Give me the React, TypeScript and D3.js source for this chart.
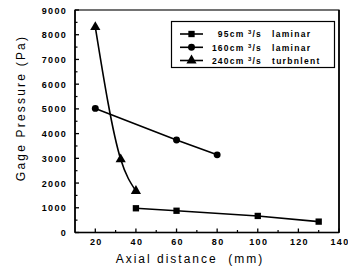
import React, { useEffect, useRef } from 'react';
import * as d3 from 'd3';

// data
const laminar95X = [40, 60, 100, 130];
const laminar95Y = [980, 880, 670, 440];
const laminar160X = [20, 60, 80];
const laminar160Y = [5020, 3740, 3140];
const turbulent240X = [20, 32.5, 40];
const turbulent240Y = [8310, 2960, 1680];

const xTicks = [20, 40, 60, 80, 100, 120, 140];
const yTicks = [0, 1000, 2000, 3000, 4000, 5000, 6000, 7000, 8000, 9000];
const legendLabels = ['95cm', '160cm', '240cm'];
const legendKinds = ['laminar', 'laminar', 'turbnlent'];

const App = () => {
  const chartRef = useRef(null);

  useEffect(() => {
    d3.select(chartRef.current).selectAll('*').remove();

    const W = 348;
    const H = 269;
    const left = 75, right = 339, top = 10, bottom = 232.5;

    const svg = d3.select(chartRef.current)
      .append('svg')
      .attr('width', W)
      .attr('height', H)
      .style('position', 'absolute')
      .style('left', 0)
      .style('top', 0)
      .style('background', '#fff');

    const x = d3.scaleLinear().domain([10, 140]).range([left, right]);
    const y = d3.scaleLinear().domain([0, 9000]).range([bottom, top]);

    const font = 'Liberation Sans, Arial, sans-serif';

    // frame
    svg.append('rect')
      .attr('x', left).attr('y', top)
      .attr('width', right - left).attr('height', bottom - top)
      .attr('fill', 'none').attr('stroke', '#000').attr('stroke-width', 1.1);
    svg.append('line')
      .attr('x1', left).attr('x2', left).attr('y1', top).attr('y2', bottom)
      .attr('stroke', '#000').attr('stroke-width', 1.6);
    svg.append('line')
      .attr('x1', left).attr('x2', right).attr('y1', bottom).attr('y2', bottom)
      .attr('stroke', '#000').attr('stroke-width', 1.6);
    svg.append('line')
      .attr('x1', right).attr('x2', right).attr('y1', top).attr('y2', bottom)
      .attr('stroke', '#000').attr('stroke-width', 1.6);

    // y ticks (inward), minor every 500
    const yMinor = d3.range(500, 9000, 1000);
    svg.selectAll('.ytick').data(yTicks).enter().append('line')
      .attr('x1', left).attr('x2', left + 4)
      .attr('y1', d => y(d)).attr('y2', d => y(d))
      .attr('stroke', '#000').attr('stroke-width', 1.3);
    svg.selectAll('.yminor').data(yMinor).enter().append('line')
      .attr('x1', left).attr('x2', left + 2.5)
      .attr('y1', d => y(d)).attr('y2', d => y(d))
      .attr('stroke', '#000').attr('stroke-width', 1.2);
    svg.selectAll('.ylab').data(yTicks).enter().append('text')
      .attr('x', 67).attr('y', d => y(d) + 3.5)
      .attr('text-anchor', 'end')
      .style('font-family', font).style('font-weight', 'bold')
      .style('font-size', '9px').style('letter-spacing', '1.3px')
      .text(d => d);

    // x ticks (inward), minor every 10
    const xMinor = d3.range(30, 140, 20);
    svg.selectAll('.xtick').data(xTicks).enter().append('line')
      .attr('x1', d => x(d)).attr('x2', d => x(d))
      .attr('y1', bottom).attr('y2', bottom - 4)
      .attr('stroke', '#000').attr('stroke-width', 1.3);
    svg.selectAll('.xminor').data(xMinor).enter().append('line')
      .attr('x1', d => x(d)).attr('x2', d => x(d))
      .attr('y1', bottom).attr('y2', bottom - 2.5)
      .attr('stroke', '#000').attr('stroke-width', 1.2);
    svg.selectAll('.xlab').data(xTicks).enter().append('text')
      .attr('x', d => x(d) + 1).attr('y', 245)
      .attr('text-anchor', 'middle')
      .style('font-family', font).style('font-weight', 'bold')
      .style('font-size', '9px').style('letter-spacing', '1.3px')
      .text(d => d);

    // axis titles
    svg.append('text')
      .attr('x', 190).attr('y', 263)
      .attr('text-anchor', 'middle')
      .style('font-family', font).style('font-size', '12px')
      .style('letter-spacing', '2px')
      .style('white-space', 'pre')
      .text('Axial distance  (mm)');
    svg.append('text')
      .attr('transform', 'translate(25,108) rotate(-90)')
      .attr('text-anchor', 'middle')
      .style('font-family', font).style('font-size', '12px')
      .style('letter-spacing', '2.2px')
      .text('Gage Pressure (Pa)');

    // series
    const lineGen = d3.line().x(d => x(d[0])).y(d => y(d[1]));
    const s95 = laminar95X.map((v, i) => [v, laminar95Y[i]]);
    const s160 = laminar160X.map((v, i) => [v, laminar160Y[i]]);
    const s240 = turbulent240X.map((v, i) => [v, turbulent240Y[i]]);

    svg.append('path').attr('d', lineGen(s95))
      .attr('fill', 'none').attr('stroke', '#000').attr('stroke-width', 1.6);
    svg.append('path').attr('d', lineGen(s160))
      .attr('fill', 'none').attr('stroke', '#000').attr('stroke-width', 1.6);
    svg.append('path').attr('d', lineGen.curve(d3.curveMonotoneX)(s240))
      .attr('fill', 'none').attr('stroke', '#000').attr('stroke-width', 1.6);

    const square = d3.symbol().type(d3.symbolSquare).size(40);
    const circle = d3.symbol().type(d3.symbolCircle).size(38);
    const tri = d3.symbol().type(d3.symbolTriangle).size(45);

    svg.selectAll('.sq').data(s95).enter().append('path')
      .attr('d', square).attr('transform', d => `translate(${x(d[0])},${y(d[1])})`);
    svg.selectAll('.ci').data(s160).enter().append('path')
      .attr('d', circle).attr('transform', d => `translate(${x(d[0])},${y(d[1])})`);
    svg.selectAll('.tr').data(s240).enter().append('path')
      .attr('d', tri).attr('transform', d => `translate(${x(d[0])},${y(d[1])})`);

    // legend
    const lg = svg.append('g');
    lg.append('rect')
      .attr('x', 171.5).attr('y', 21.5).attr('width', 163).attr('height', 46)
      .attr('fill', '#fff').attr('stroke', '#000').attr('stroke-width', 1.2);
    const markers = [square, circle, tri];
    const rowY = [34, 47.3, 60.5];
    legendLabels.forEach((lab, i) => {
      lg.append('line')
        .attr('x1', 180).attr('x2', 203).attr('y1', rowY[i]).attr('y2', rowY[i])
        .attr('stroke', '#000').attr('stroke-width', 1.6);
      lg.append('path').attr('d', markers[i]).attr('transform', `translate(191.5,${rowY[i]})`);
      const t = lg.append('text')
        .attr('x', 262).attr('y', rowY[i] + 3.2)
        .attr('text-anchor', 'end')
        .style('font-family', font).style('font-weight', 'bold')
        .style('font-size', '8.5px').style('letter-spacing', '1.2px');
      t.append('tspan').text(lab + ' ');
      t.append('tspan').attr('dy', -3).style('font-size', '6px').text('3');
      t.append('tspan').attr('dy', 3).text('/s');
      lg.append('text')
        .attr('x', 272).attr('y', rowY[i] + 3.2)
        .style('font-family', font).style('font-weight', 'bold')
        .style('font-size', '8.5px').style('letter-spacing', '1.3px')
        .text(legendKinds[i]);
    });
  }, []);

  return <div ref={chartRef}></div>;
};

export default App;
